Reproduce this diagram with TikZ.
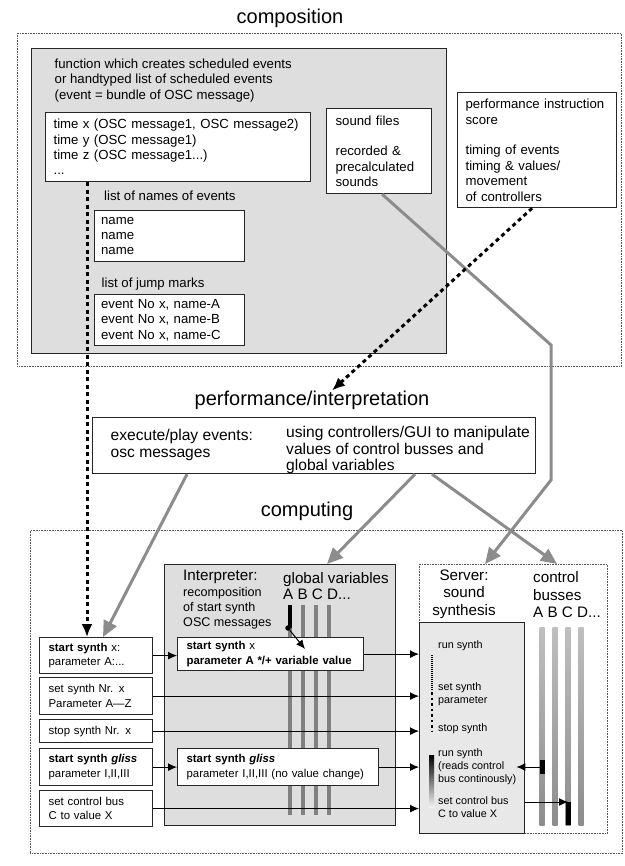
\documentclass[tikz,border=0pt]{standalone}
\usepackage{fontspec}
\setmainfont{Liberation Sans}
\usetikzlibrary{arrows.meta,positioning,calc}

\begin{document}
\begin{tikzpicture}[x=1pt,y=-1pt,>=Latex,
title/.style={font=\fontsize{20}{24}\selectfont,inner sep=0pt},
frame/.style={draw=black!65,line width=0.9pt,dash pattern=on 0.8pt off 0.8pt,anchor=north west,inner sep=0pt},
panel/.style={draw=black!85,line width=1.3pt,fill=black!13,anchor=north west,inner sep=0pt},
box/.style={draw=black!85,line width=1.2pt,fill=white,align=left,anchor=north west,inner ysep=0pt},
lab/.style={align=left,anchor=west,inner sep=0pt},
comp/.style={font=\fontsize{13.2}{15.4}\selectfont},
cmd/.style={font=\fontsize{11.4}{14.5}\selectfont},
srv/.style={font=\fontsize{10.8}{13}\selectfont},
head/.style={font=\fontsize{15.2}{16.5}\selectfont},
perftext/.style={font=\fontsize{15.6}{16.5}\selectfont},
varbar/.style={fill=black!50,minimum width=4.5pt,inner sep=0pt,anchor=north},
busbar/.style={top color=black!25,bottom color=black!45,minimum width=5pt,inner sep=0pt,anchor=north},
flow/.style={-{Latex[length=9pt,width=8pt]},line width=1pt},
grayflow/.style={-{Triangle[length=16pt,width=14pt]},line width=3pt,draw=black!45},
dashflow/.style={-{Latex[length=13pt,width=11pt]},line width=3pt,dash pattern=on 4pt off 3.5pt}]
\path[use as bounding box,fill=white] (0,0) rectangle (624,866);
% titles
\node[title] (comptitle) at (290,18) {composition};
\node[title] (perftitle) at (312,400) {performance/interpretation};
\node[title] (comptngtitle) at (307,511) {computing};
% composition
\node[frame,minimum width=604,minimum height=333] (compframe) at (17,33) {};
\node[panel,minimum width=415,minimum height=305] (funcpanel) at (31,48) {};
\node[lab,comp] (funclabel) at (54.5,80.5) {function which creates scheduled events\\or handtyped list of scheduled events\\(event = bundle of OSC message)};
\node[box,comp,inner xsep=8pt,text width=249pt,minimum height=69pt] (timebox) at (45,112)
{time x (OSC message1, OSC message2)\\time y (OSC message1)\\time z (OSC message1...)\\...};
\node[box,comp,inner xsep=9pt,text width=87pt,minimum height=85pt] (soundbox) at (326,108)
{sound files\\[15.4pt]recorded \&\\precalculated\\sounds};
\node[box,comp,inner xsep=8pt,text width=143pt,minimum height=115pt] (perfinstr) at (457,92)
{performance instruction\\score\\[15.4pt]timing of events\\timing \& values/\\movement\\of controllers};
\node[lab,comp] (nameslabel) at (104,196) {list of names of events};
\node[box,comp,inner xsep=7pt,text width=136.5pt,minimum height=51pt] (namesbox) at (93.5,210) {name\\name\\name};
\node[lab,comp] (jumplabel) at (101.5,284) {list of jump marks};
\node[box,comp,inner xsep=7pt,text width=136.5pt,minimum height=51pt] (jumpbox) at (93.5,294)
{event No x, name-A\\event No x, name-B\\event No x, name-C};
% performance
\node[box,minimum width=443pt,minimum height=56pt] (perfbox) at (92,417) {};
\node[lab,perftext] (perfplay) at (110.5,445) {execute/play events:\\osc messages};
\node[lab,perftext] (perfctrl) at (286,450) {using controllers/GUI to manipulate\\values of control busses and\\global variables};
% computing
\node[frame,minimum width=592,minimum height=323] (comptframe) at (30,530) {};
\node[panel,minimum width=231,minimum height=261] (ibox) at (164,564) {};
\node[frame,minimum width=188,minimum height=269] (srvframe) at (419,564) {};
\node[panel,fill=black!9,minimum width=105,minimum height=211] (srvbox) at (419,622) {};
% interpreter
\node[lab,head] (interptitle) at (183,577) {Interpreter:};
\node[lab,font=\fontsize{12.6}{15}\selectfont] (interpsub) at (183,608) {recomposition\\of start synth\\OSC messages};
\node[lab,head] (varlabel) at (283,586) {global variables\\A B C D...};
\node[varbar,minimum height=210pt] (varA) at (290,605) {};
\node[varbar,minimum height=210pt] (varB) at (303,605) {};
\node[varbar,minimum height=210pt] (varC) at (316,605) {};
\node[varbar,minimum height=210pt] (varD) at (329,605) {};
\draw[line width=4.5pt] (varA.north) -- ++(0,23);
\node[circle,fill=black,inner sep=0pt,minimum size=5.5pt] (vardot) at (288,628) {};
\node[box,cmd,inner xsep=9pt,text width=168pt,minimum height=33pt] (issx) at (177,637)
{\textbf{start synth} x\\\textbf{parameter A */+ variable value}};
\node[box,cmd,inner xsep=9pt,text width=183pt,minimum height=37pt] (igl) at (177,748)
{\textbf{start synth \textit{gliss}}\\parameter I,II,III (no value change)};
% commands
\node[box,cmd,inner xsep=9pt,text width=95pt,minimum height=36pt] (ssx) at (39,637) {\textbf{start synth} x:\\parameter A:...};
\node[box,cmd,inner xsep=9pt,text width=95pt,minimum height=37pt] (ssn) at (39,677) {set synth Nr. x\\Parameter A---Z};
\node[box,cmd,inner xsep=9pt,text width=95pt,minimum height=23pt] (stopbox) at (39,719) {stop synth Nr. x};
\node[box,cmd,inner xsep=9pt,text width=95pt,minimum height=37pt] (gliss) at (39,748) {\textbf{start synth \textit{gliss}}\\parameter I,II,III};
\node[box,cmd,inner xsep=9pt,text width=95pt,minimum height=36pt] (scb) at (39,790) {set control bus\\C to value X};
% server
\node[align=center,inner sep=0pt,font=\fontsize{15.2}{17.5}\selectfont] (srvtitle) at (464,594) {Server:\\sound\\synthesis};
\node[lab,font=\fontsize{15.2}{17.5}\selectfont] (buslabel) at (533,595) {control\\busses\\A B C D...};
\node[busbar,minimum height=198pt] (busA) at (542,627) {};
\node[busbar,minimum height=198pt] (busB) at (555,627) {};
\node[busbar,minimum height=198pt] (busC) at (568,627) {};
\node[busbar,minimum height=198pt] (busD) at (581,627) {};
\draw[line width=5pt] ([yshift=-133pt]busA.north) -- ++(0,14);
\draw[line width=5pt] ([yshift=-175pt]busC.north) -- (busC.south);
\node[lab,srv] (srvrun) at (438,646) {run synth};
\node[lab,srv] (srvset) at (438,694) {set synth\\parameter};
\node[lab,srv] (srvstop) at (438,729) {stop synth};
\node[lab,srv] (srvread) at (438,767) {run synth\\(reads control\\bus continously)};
\node[lab,srv] (srvscb) at (438,807) {set control bus\\C to value X};
\draw[line width=2pt,dash pattern=on 1pt off 1pt] (432,655) -- (432,690);
\draw[line width=2.6pt,dash pattern=on 2.5pt off 3pt] (432,692) -- (432,731);
\shade[top color=black,bottom color=black!5] (429,755) rectangle (434,807);
% connectors
\draw[flow] (ssx.east) -- (ssx.east -| issx.west);
\draw[flow] (issx.east) -- (issx.east -| srvbox.west);
\draw[flow] (ssn.east) -- (ssn.east -| srvbox.west);
\draw[flow] (stopbox.east) -- (stopbox.east -| srvbox.west);
\draw[flow] (gliss.east) -- (gliss.east -| igl.west);
\draw[flow] (igl.east) -- (igl.east -| srvbox.west);
\draw[flow] (scb.east) -- (scb.east -| srvbox.west);
\draw[flow] (vardot) -- ([xshift=128pt,yshift=-12pt]issx.north west);
\draw[flow] (srvread.east -| busA) -- (srvread.east);
\draw[flow] ($(srvscb.east -| srvbox.east)+(0,-5)$) -- ($(srvscb.east -| busC)+(0,-5)$);
\coordinate (sndbendA) at (551,345);
\coordinate (sndbendB) at (551,480);
\draw[grayflow] ([xshift=3pt]soundbox.south) -- (sndbendA) -- (sndbendB) -- ([xshift=66pt]srvframe.north west);
\draw[grayflow] ([xshift=95pt]perfbox.south west) -- ([xshift=64pt]ssx.north west);
\draw[grayflow] ([xshift=323pt]perfbox.south west) -- ([xshift=163pt]ibox.north west);
\draw[grayflow] ([xshift=340pt]perfbox.south west) -- ([xshift=138pt]srvframe.north west);
\draw[dashflow] ([xshift=-5pt]perfinstr.south) -- ([xshift=20pt]perftitle.north);
\draw[dashflow] ([xshift=42pt]timebox.south west) -- ([xshift=48pt]ssx.north west);
\end{tikzpicture}
\end{document}
